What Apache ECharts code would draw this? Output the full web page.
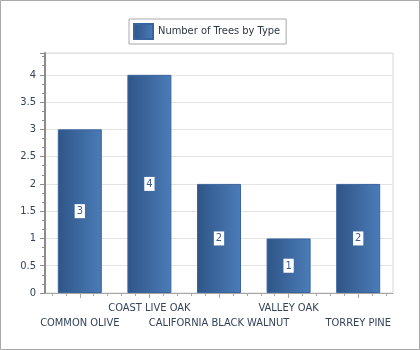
<!DOCTYPE html>
<html><head><meta charset="utf-8">
<script src="https://cdn.jsdelivr.net/npm/echarts@6/dist/echarts.min.js"></script>
<style>html,body{margin:0;padding:0;background:#fff}#c{width:420px;height:350px}</style>
</head><body><div id="c"></div>
<script>
const categories = ['COMMON OLIVE', 'COAST LIVE OAK', 'CALIFORNIA BLACK WALNUT', 'VALLEY OAK', 'TORREY PINE'];
const values = [3, 4, 2, 1, 2];
const seriesName = 'Number of Trees by Type';
const yTicks = [0, 0.5, 1, 1.5, 2, 2.5, 3, 3.5, 4];

const FONT = '"DejaVu Sans Condensed", "DejaVu Sans", sans-serif';
const TEXT = '#34435a';
// helper axis only for the minor tick marks (5 per category)
const minorSlots = Array.from({length: categories.length * 5}, (_, i) => String(i));

const chart = echarts.init(document.getElementById('c'));
chart.setOption({
  animation: false,
  textStyle: {fontFamily: FONT},
  graphic: [{type: 'rect', shape: {x: 0.5, y: 0.5, width: 419, height: 349},
    style: {fill: 'none', stroke: '#a8a8a8', lineWidth: 1}, silent: true}],
  legend: {
    left: 129, top: 19,
    padding: [4, 6, 4, 4],
    borderColor: '#a9a9a9', borderWidth: 1,
    icon: 'rect',
    itemWidth: 19, itemHeight: 15, itemGap: 4,
    textStyle: {fontFamily: FONT, fontSize: 11, color: '#2c3645'},
    data: [seriesName]
  },
  grid: {left: 45, right: 27, top: 53, bottom: 57, show: true, borderColor: '#d6d6d6', borderWidth: 1, backgroundColor: '#fff'},
  xAxis: [{
    type: 'category', data: categories,
    axisLine: {show: true, lineStyle: {color: '#a6a6a6', width: 1}},
    axisTick: {show: true, alignWithLabel: true, length: 5, lineStyle: {color: '#a6a6a6'}},
    axisLabel: {interval: 0, margin: 8, lineHeight: 15, fontFamily: FONT, fontSize: 11, color: TEXT,
      formatter: (v, i) => (i % 2 === 0 ? '\n' + v : v)},
    splitLine: {show: false}
  }, {
    type: 'category', data: minorSlots, position: 'bottom',
    axisLine: {show: false},
    axisTick: {show: true, alignWithLabel: true, length: 3, lineStyle: {color: '#a6a6a6'}, interval: 0},
    axisLabel: {show: false}, splitLine: {show: false}
  }],
  yAxis: {
    type: 'value', min: 0, max: 4.4, interval: 0.5,
    axisLine: {show: true, lineStyle: {color: '#8c8c8c', width: 2}},
    axisTick: {show: true, length: 5, lineStyle: {color: '#8c8c8c'}},
    minorTick: {show: true, splitNumber: 3, length: 3, lineStyle: {color: '#8c8c8c'}},
    axisLabel: {margin: 9, fontFamily: FONT, fontSize: 11, color: TEXT, showMaxLabel: false,
      formatter: v => (yTicks.indexOf(v) >= 0 ? String(v) : '')},
    splitLine: {show: true, lineStyle: {color: '#e3e3e3', width: 1}}
  },
  series: [{
    name: seriesName, type: 'bar', data: values, barWidth: 44, xAxisIndex: 0,
    itemStyle: {
      color: new echarts.graphic.LinearGradient(0, 0, 1, 0, [
        {offset: 0, color: '#2f5587'}, {offset: 1, color: '#4b7cb8'}]),
      borderColor: '#3a649e', borderWidth: 1
    },
    label: {show: true, position: 'inside', fontFamily: FONT, fontSize: 11, color: '#3a5f94',
      backgroundColor: '#ffffff', padding: [2, 2, 1, 2]}
  }]
});
</script></body></html>
